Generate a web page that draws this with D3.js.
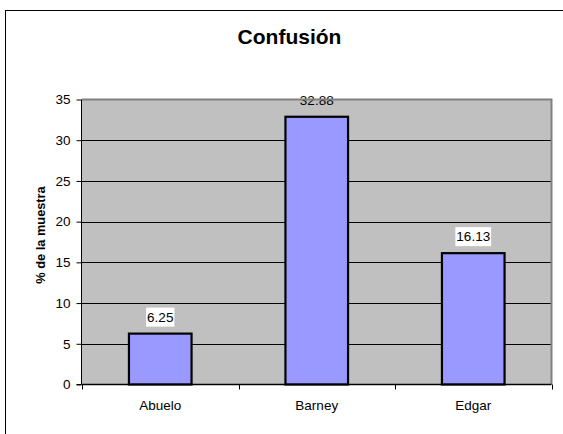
<!DOCTYPE html>
<html>
<head>
<meta charset="utf-8">
<script src="https://cdn.jsdelivr.net/npm/d3@7"></script>
<style>
  html, body { margin: 0; padding: 0; background: #ffffff; }
  svg { display: block; font-family: Arial, "Liberation Sans", sans-serif; }
</style>
</head>
<body>
<svg id="chart" width="563" height="434"></svg>
<script>
// Chart data
const categories = ["Abuelo", "Barney", "Edgar"];
const values = [6.25, 32.88, 16.13];
const yTicks = [0, 5, 10, 15, 20, 25, 30, 35];
const titleText = "Confusión";
const yAxisTitle = "% de la muestra";

const svg = d3.select("#chart");
const plot = { left: 82, right: 551.5, top: 99.5, bottom: 384.5 };

const x = d3.scaleBand()
  .domain(categories)
  .range([plot.left, plot.right])
  .paddingInner(0.6)
  .paddingOuter(0.3);

const y = d3.scaleLinear()
  .domain([0, 35])
  .range([plot.bottom, plot.top]);

// Outer chart frame
svg.append("rect")
  .attr("x", 5.5).attr("y", 10.5)
  .attr("width", 700).attr("height", 600)
  .attr("fill", "#ffffff").attr("stroke", "#000").attr("stroke-width", 1);

// Plot area background
svg.append("rect")
  .attr("x", plot.left).attr("y", plot.top)
  .attr("width", plot.right - plot.left).attr("height", plot.bottom - plot.top)
  .attr("fill", "#c0c0c0");

// Gridlines
svg.append("g")
  .selectAll("line")
  .data(yTicks.filter(d => d > 0 && d < 35))
  .join("line")
  .attr("x1", plot.left).attr("x2", plot.right)
  .attr("y1", d => Math.round(y(d)) + 0.5).attr("y2", d => Math.round(y(d)) + 0.5)
  .attr("stroke", "#000").attr("stroke-width", 1);

// Bars
svg.append("g")
  .selectAll("rect")
  .data(values)
  .join("rect")
  .attr("x", (d, i) => x(categories[i]))
  .attr("width", x.bandwidth())
  .attr("y", d => y(d))
  .attr("height", d => y(0) - y(d))
  .attr("fill", "#9999ff")
  .attr("stroke", "#000")
  .attr("stroke-width", 2.2);

// Value labels with white backing
const labels = svg.append("g")
  .selectAll("g")
  .data(values)
  .join("g")
  .attr("transform", (d, i) => `translate(${x(categories[i]) + x.bandwidth() / 2},${y(d) - 12})`);

labels.each(function (d) {
  const g = d3.select(this);
  const t = g.append("text")
    .attr("text-anchor", "middle")
    .attr("font-size", "13.5px")
    .attr("fill", "#000")
    .text(d.toFixed(2));
  const bb = t.node().getBBox();
  if (d < 30) {
    g.insert("rect", "text")
      .attr("x", bb.x - 1).attr("y", -14)
      .attr("width", bb.width + 2).attr("height", 19)
      .attr("fill", "#ffffff");
  }
});

// Plot border on top/right
svg.append("path")
  .attr("d", `M${plot.left},${plot.top}H${plot.right}V${plot.bottom}`)
  .attr("fill", "none")
  .attr("stroke", "#808080")
  .attr("stroke-width", 2);

// Y axis
const yAxis = svg.append("g")
  .attr("transform", `translate(${plot.left - 0.5},0)`)
  .call(d3.axisLeft(y).tickValues(yTicks).tickSize(5).tickPadding(6).tickFormat(d3.format("d")));
yAxis.selectAll("text").attr("font-size", "13.5px").attr("fill", "#000").attr("font-family", "Arial, 'Liberation Sans', sans-serif");
yAxis.select(".domain").attr("d", `M-5,${y(0)}H0V${plot.top}`).attr("stroke", "#000");
yAxis.selectAll(".tick line").attr("stroke", "#000");

// X axis
const xTickPos = [plot.left, ...categories.map(c => x(c) + x.bandwidth() / 2 + x.step() / 2)];
const xAxis = svg.append("g");
xAxis.append("line")
  .attr("x1", plot.left).attr("x2", plot.right)
  .attr("y1", plot.bottom).attr("y2", plot.bottom)
  .attr("stroke", "#000").attr("stroke-width", 1.5);
xAxis.selectAll("line.tick")
  .data(xTickPos)
  .join("line")
  .attr("class", "tick")
  .attr("x1", d => Math.round(d) + 0.5).attr("x2", d => Math.round(d) + 0.5)
  .attr("y1", plot.bottom).attr("y2", plot.bottom + 5)
  .attr("stroke", "#000");
xAxis.selectAll("text")
  .data(categories)
  .join("text")
  .attr("x", d => x(d) + x.bandwidth() / 2)
  .attr("y", 410)
  .attr("text-anchor", "middle")
  .attr("font-size", "13.5px")
  .attr("fill", "#000")
  .text(d => d);

// Title
svg.append("text")
  .attr("x", 289.5).attr("y", 44)
  .attr("text-anchor", "middle")
  .attr("font-size", "21px")
  .attr("font-weight", "bold")
  .attr("fill", "#000")
  .text(titleText);

// Y axis title
svg.append("text")
  .attr("transform", `translate(45,235) rotate(-90)`)
  .attr("text-anchor", "middle")
  .attr("font-size", "12.8px")
  .attr("font-weight", "bold")
  .attr("fill", "#000")
  .text(yAxisTitle);
</script>
</body>
</html>
